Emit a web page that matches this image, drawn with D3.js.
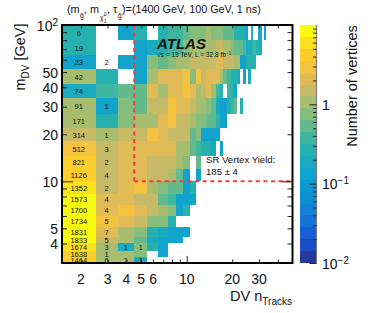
<!DOCTYPE html>
<html><head><meta charset="utf-8">
<script src="https://cdn.jsdelivr.net/npm/d3@7"></script>
<style>
html,body{margin:0;padding:0;background:#fff}
svg{display:block}
text{font-family:"Liberation Sans",Arial,sans-serif;fill:#111}
</style></head><body><div id="c"></div>
<script>
const massEdges=[100,80,64,52,42,34,27,22,18,14.5,12,10,8.3,7.1,6,5.1,4.4,4,3.6,3.3,3];
// Each row: vertex density for nTracks = 2,3,4,... (0 = empty bin)
const row00=[.24,0,.12,.24,0,.24,.33,.33,.47,.67,.67,.67,.94,.67,.67,.67,.47,.47,.47,.24,.24,.24,.17,.12,0,.24,0,0,.17,.17,0,.12];
const row01=[.24,0,0,.12,.2,.24,.33,.33,.67,.94,.94,.94,.94,.94,1.33,1.33,.94,.94,.67,.47,.47,.47,.33,.17,.17,.24,.33,.24,.24,.17];
const row02=[.12,0,.12,.12,.67,.47,.67,.94,.94,1.33,1.33,1.33,1.33,1.33,1.9,1.9,1.33,1.33,1.33,.94,.94,.12,.12,.24,.24,.24,.24];
const row03=[.94,.24,0,.12,.94,1.9,1.9,1.9,2.66,.67,2.66,1.33,1.9,1.9,1.9,.94,.47,.33,.24,.24,.17,0,.12,0,.17];
const row04=[.17,.33,.47,.47,1.9,.94,1.9,1.9,2.66,1.9,.94,1.33,1.9,.94,.33,.24,0,.33,.24,.12];
const row05=[.94,.12,.67,.6,1.33,1.33,2.66,1.9,1.9,1.33,.94,.94,.67,.47,.2,.12,.12,.24,.33,.47,0,.24];
const row06=[.94,.24,.67,.94,.94,1.9,2.66,1.6,1.6,.94,.67,.67,.47,.47,.24,.12,.12];
const row07=[1.33,.94,1.33,1.6,3,1.9,1.33,1.33,1.33,.47,.67,.12,.12,.12,.12];
const row08=[2.66,1.33,1.9,1.9,1.9,1.9,1.9,.94,.94,.47,.33,.24,.24,.2,0,.12];
const row09=[3.8,1.33,1.9,1.9,1.33,1.33,1.33,.94,.67,0,.47];
const row10=[3.8,1.33,1.9,1.9,1.33,1.33,.94,.47,.12,0,.12];
const row11=[5.3,1.33,1.9,2.66,.94,.67,.47,.47,.12,.24];
const row12=[7.5,1.9,1.9,1.33,1.5,.47,.33,.12,.12,.12];
const row13=[7.5,1.9,2.66,1.9,1.33,.94,.67,.12,.24];
const row14=[7.5,2.66,1.9,1.33,.67,.67,.24];
const row15=[7.5,1.9,.94,.67,.28,.2,.12,.12,.12];
const row16=[7.5,1.33,.94,.47,.17,.12,.12,.12];
const row17=[5.3,.94,.2,.67,.24,.12];
const row18=[3.8,.94,.94,.67,0,.12];
const row19=[3.8,.94,.94,.2];
const rows=[row00,row01,row02,row03,row04,row05,row06,row07,row08,row09,row10,row11,row12,row13,row14,row15,row16,row17,row18,row19];
// printed yields
const col2Labels=["6","19","23","42","74","91","171","314","512","821","1126","1352","1573","1700","1734","1831","1833","1674","1638","1464"];
const col3Labels=["","","2","","","1","","1","3","2","4","2","4","4","5","7","5","3","1","6"];
const col4Labels={17:"1",19:"1"};
const col5Labels={17:"1",19:"1"};
const palette=["#2a3a9c","#1c4dc4","#175fd6","#1373d8","#1282d6","#0d90d4","#0a9bd2","#10a3cb","#1aabc0","#27b1ae","#3fb6a0","#62ba8d","#84bd7c","#a7bd6f","#c7ba66","#e0bb56","#f4c23f","#fcce2c","#fde01e","#f8fb0e"];
const xLabelTicks=[2,3,4,5,6,10,20,30];
const xMinorTicks=[2,3,4,5,6,7,8,9,20,30,40];
const yLabelTicks=[4,5,10,20,30,40,50,100];
const yMinorTicks=[4,5,6,7,8,9,20,30,40,50,60,70,80,90];
const zMinorTicks=[.02,.03,.04,.05,.06,.07,.08,.09,.2,.3,.4,.5,.6,.7,.8,.9,2,3,4,5,6,7,8,9];

const W=390,H=313,L=62,R=292.5,T=25,B=263,CX0=300,CX1=316.5;
const svg=d3.select("#c").append("svg").attr("width",W).attr("height",H);
const x=d3.scaleLog().domain([1.5,50]).range([L,R]);
const y=d3.scaleLog().domain([3,100]).range([B,T]);
const zBar=d3.scaleLog().domain([.01,10]).range([B,T]);
const col=d3.scaleQuantize().domain([-2,1]).range(palette);
svg.append("defs").append("clipPath").attr("id","pl").append("rect").attr("x",L).attr("y",T).attr("width",R-L).attr("height",B-T);
const plot=svg.append("g").attr("clip-path","url(#pl)");
rows.forEach((r,i)=>{
  plot.append("g").selectAll("rect").data(r.map((v,j)=>({v,n:j+2})).filter(d=>d.v>0)).join("rect")
   .attr("x",d=>x(d.n-.5)).attr("width",d=>x(d.n+.5)-x(d.n-.5))
   .attr("y",y(massEdges[i])).attr("height",y(massEdges[i+1])-y(massEdges[i]))
   .attr("fill",d=>col(Math.log10(d.v))).attr("shape-rendering","crispEdges");
});
function labelCol(lbls,n){
  Object.keys(lbls).forEach(k=>{const i=+k; if(!lbls[k])return;
    plot.append("text").attr("x",x(n-.5)/2+x(n+.5)/2)
      .attr("y",(y(massEdges[i])+y(massEdges[i+1]))/2+3).attr("text-anchor","middle").attr("font-size",7.5).attr("fill","#222").text(lbls[k]);
  });
}
labelCol(col2Labels,2);labelCol(col3Labels,3);labelCol(col4Labels,4);labelCol(col5Labels,5);

// red SR boundary
const red=svg.append("g").attr("fill","none").attr("stroke","#fb3a3a").attr("stroke-width",2).attr("stroke-dasharray","4 3.6");
red.append("line").attr("x1",x(4.5)).attr("x2",x(4.5)).attr("y1",T).attr("y2",y(10));
red.append("line").attr("x1",x(4.5)).attr("x2",R).attr("y1",y(10)).attr("y2",y(10));

// ticks
function ax(g,a){g.call(a);g.select(".domain").remove();g.selectAll("line").attr("stroke","#222").attr("stroke-width",1);g.selectAll("text").remove();}
ax(svg.append("g").attr("transform",`translate(0,${B})`),d3.axisBottom(x).tickValues(xMinorTicks).tickSize(-3.5));
ax(svg.append("g").attr("transform",`translate(0,${B})`),d3.axisBottom(x).tickValues([10]).tickSize(-7));
ax(svg.append("g").attr("transform",`translate(0,${T})`),d3.axisTop(x).tickValues(xMinorTicks).tickSize(-3.5));
ax(svg.append("g").attr("transform",`translate(0,${T})`),d3.axisTop(x).tickValues([10]).tickSize(-7));
ax(svg.append("g").attr("transform",`translate(${L},0)`),d3.axisLeft(y).tickValues(yMinorTicks).tickSize(-5));
ax(svg.append("g").attr("transform",`translate(${L},0)`),d3.axisLeft(y).tickValues([10]).tickSize(-11));
ax(svg.append("g").attr("transform",`translate(${R},0)`),d3.axisRight(y).tickValues(yMinorTicks).tickSize(-5));
ax(svg.append("g").attr("transform",`translate(${R},0)`),d3.axisRight(y).tickValues([10]).tickSize(-11));
svg.append("rect").attr("x",L).attr("y",T).attr("width",R-L).attr("height",B-T).attr("fill","none").attr("stroke","#000").attr("stroke-width",2);

// tick labels
svg.append("g").selectAll("text").data(xLabelTicks).join("text").attr("x",d=>x(d)).attr("y",284).attr("text-anchor","middle").attr("font-size",14).text(d=>d);
const yl=svg.append("g").selectAll("text").data(yLabelTicks).join("text").attr("x",58).attr("y",d=>y(d)+5.5).attr("text-anchor","end").attr("font-size",14);
yl.each(function(d){const t=d3.select(this); if(d===100){t.append("tspan").text("10");t.append("tspan").attr("dy",-5).attr("font-size",10).text("2");} else t.text(d);});

// colour bar
const lev=d3.range(20);
svg.append("g").selectAll("rect").data(lev).join("rect").attr("x",CX0).attr("width",CX1-CX0)
  .attr("y",d=>zBar(Math.pow(10,-2+(d+1)*.15))).attr("height",d=>zBar(Math.pow(10,-2+d*.15))-zBar(Math.pow(10,-2+(d+1)*.15)))
  .attr("fill",d=>palette[d]).attr("shape-rendering","crispEdges");
svg.append("line").attr("x1",CX1).attr("x2",CX1).attr("y1",T).attr("y2",B).attr("stroke","#777");
ax(svg.append("g").attr("transform",`translate(${CX1},0)`),d3.axisRight(zBar).tickValues(zMinorTicks).tickSize(-3.5));
ax(svg.append("g").attr("transform",`translate(${CX1},0)`),d3.axisRight(zBar).tickValues([.01,.1,1]).tickSize(-7));
[[1,"1",null],[.1,"10","−1"],[.01,"10","−2"]].forEach(([v,a,b])=>{
  const t=svg.append("text").attr("x",322).attr("y",zBar(v)+5.5).attr("font-size",14);
  t.append("tspan").text(a); if(b)t.append("tspan").attr("dy",-5).attr("font-size",10).text(b);
});
svg.append("text").attr("transform","translate(357,86) rotate(-90)").attr("text-anchor","middle").attr("font-size",14.5).text("Number of vertices");

// axis titles
const yt=svg.append("text").attr("transform","translate(25,57) rotate(-90)").attr("text-anchor","middle").attr("font-size",14.5);
yt.append("tspan").text("m");yt.append("tspan").attr("dy",4).attr("font-size",10).text("DV");yt.append("tspan").attr("dy",-4).text(" [GeV]");
const xt=svg.append("text").attr("x",292).attr("y",301).attr("text-anchor","end").attr("font-size",14.5);
xt.append("tspan").text("DV n");xt.append("tspan").attr("dy",3.5).attr("font-size",10).text("Tracks");

// title
const tf=10.8;
function tt(xp,yp,s,fs){svg.append("text").attr("x",xp).attr("y",yp).attr("font-size",fs||tf).text(s);}
tt(67,13,"(m");tt(80,18,"g̃",6.5);tt(84,13,", m");tt(100,20,"χ̃",6.5);tt(104,16,"0",4.5);tt(104,23,"1",4.5);tt(107,13,", τ");tt(118,18,"g̃",6.5);
tt(122,13,")=(1400 GeV, 100  GeV, 1 ns)");

// annotations
svg.append("text").attr("x",157).attr("y",49).attr("font-size",15).attr("font-weight","bold").attr("font-style","italic").attr("fill","#000").text("ATLAS");
const s=svg.append("text").attr("x",157).attr("y",57).attr("font-size",6.6).attr("fill","#222");
s.append("tspan").text("√s = 13 TeV, L = 32.8 fb");s.append("tspan").attr("dy",-2).attr("font-size",4.5).text("−1");
svg.append("text").attr("x",206).attr("y",163).attr("font-size",9.6).text("SR Vertex Yield:");
svg.append("text").attr("x",206).attr("y",175).attr("font-size",9.6).text("185 ± 4");
</script></body></html>
